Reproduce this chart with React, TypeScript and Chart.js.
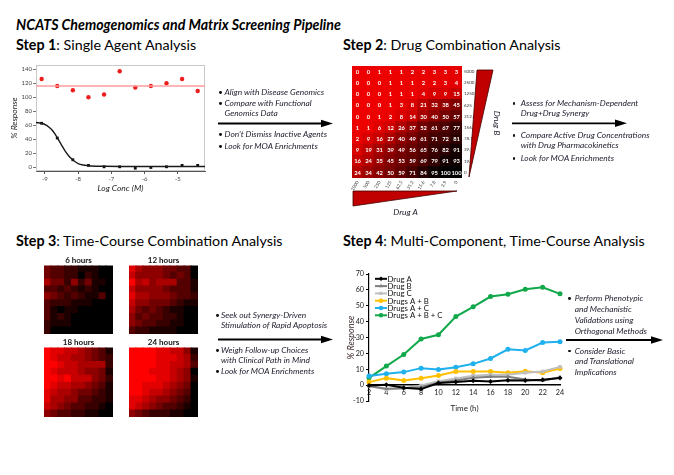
import React, { useEffect, useRef } from 'react';
import { Chart, registerables } from 'chart.js';
import { drawPoint } from 'chart.js/helpers';
Chart.register(...registerables);

const FONT = 'Lato, "Open Sans", sans-serif';

// ---------- Step 1: single agent dose response ----------
const logConc = [-9.1, -8.63, -8.16, -7.69, -7.22, -6.75, -6.28, -5.81, -5.34, -4.87, -4.4];
const inactiveResp = [126, 116, 110, 100, 104, 137, 114, 116, 120, 126, 109];
const activeResp = [63, 42, 11, 3, 1, 1, -1, 0, 1, 3, 3];
const inactiveMean = 116;
const fitConc = [-9.27, -9.1, -8.95, -8.8, -8.7, -8.6, -8.5, -8.4, -8.3, -8.2, -8.1, -8.0, -7.85, -7.6, -7.2, -6.5, -4.18];
const fitResp = [64, 63, 60, 54, 48, 40, 32, 24, 17.5, 12.5, 8.5, 5.5, 3.5, 2.2, 1.7, 1.5, 1.5];
const step1XRange = [-9.27, -4.18];
const step1YRange = [-5, 146];
const step1XTicks = [-9, -8, -7, -6, -5];
const step1YTicks = [0, 20, 40, 60, 80, 100, 120, 140];

// ---------- Step 2: combination matrix ----------
const drugALabels = ['1000', '500', '250', '125', '62.5', '31.3', '15.6', '7.8', '3.9', '0'];
const drugBLabels = ['5000', '2500', '1250', '625', '312.5', '156.2', '78.1', '39.1', '19.5', '0'];
const comboMatrix = [
  [0, 0, 1, 1, 1, 2, 2, 3, 3, 3],
  [0, 0, 0, 1, 1, 1, 2, 2, 3, 4],
  [0, 0, 0, 1, 1, 1, 4, 9, 9, 15],
  [0, 0, 0, 1, 3, 8, 21, 32, 38, 45],
  [0, 0, 1, 2, 8, 14, 30, 40, 50, 57],
  [1, 1, 6, 12, 26, 37, 52, 61, 67, 77],
  [2, 9, 16, 27, 40, 49, 61, 71, 72, 81],
  [9, 19, 31, 39, 49, 56, 65, 76, 82, 91],
  [16, 24, 35, 45, 53, 59, 69, 79, 91, 93],
  [24, 34, 42, 50, 59, 71, 84, 95, 100, 100],
];

// ---------- Step 3: time-course matrices (red intensity 0-9) ----------
const grid6h = [
  [4, 3, 3, 2, 2, 1, 1, 1, 0, 0],
  [4, 3, 3, 2, 2, 0, 2, 1, 0, 0],
  [6, 4, 4, 2, 5, 2, 4, 1, 1, 0],
  [3, 3, 2, 3, 2, 1, 2, 1, 0, 0],
  [5, 4, 3, 2, 3, 2, 1, 1, 3, 0],
  [3, 2, 2, 2, 1, 1, 1, 0, 0, 0],
  [3, 1, 0, 1, 1, 0, 0, 0, 0, 0],
  [3, 1, 2, 1, 0, 0, 0, 0, 0, 0],
  [2, 1, 1, 1, 0, 0, 0, 0, 0, 0],
  [2, 0, 0, 0, 0, 0, 0, 0, 0, 0],
];
const grid12h = [
  [8, 6, 5, 5, 5, 4, 4, 3, 3, 0],
  [7, 5, 5, 5, 5, 4, 3, 4, 3, 0],
  [9, 6, 7, 5, 6, 6, 6, 3, 3, 1],
  [7, 5, 5, 5, 5, 4, 3, 3, 3, 1],
  [8, 6, 6, 5, 5, 5, 4, 3, 3, 2],
  [7, 5, 5, 4, 4, 4, 3, 2, 1, 1],
  [6, 4, 3, 4, 3, 2, 1, 1, 0, 0],
  [5, 3, 4, 3, 3, 2, 2, 1, 0, 0],
  [5, 4, 3, 3, 2, 2, 1, 1, 0, 0],
  [3, 2, 2, 1, 1, 1, 1, 0, 0, 0],
];
const grid18h = [
  [9, 8, 8, 7, 7, 6, 5, 4, 3, 1],
  [9, 8, 7, 7, 6, 6, 5, 4, 3, 2],
  [9, 9, 8, 7, 7, 6, 6, 6, 6, 2],
  [9, 8, 7, 7, 7, 6, 5, 5, 4, 1],
  [9, 9, 8, 9, 7, 7, 7, 5, 4, 2],
  [9, 8, 7, 7, 6, 6, 5, 4, 3, 1],
  [8, 7, 6, 6, 5, 4, 4, 3, 2, 1],
  [8, 6, 6, 5, 5, 3, 3, 2, 2, 1],
  [7, 6, 5, 4, 3, 3, 2, 2, 1, 0],
  [5, 4, 3, 3, 2, 2, 1, 1, 0, 0],
];
const grid24h = [
  [9, 9, 9, 9, 8, 8, 7, 7, 5, 1],
  [9, 9, 9, 9, 8, 8, 8, 7, 6, 2],
  [9, 9, 9, 9, 8, 8, 7, 7, 6, 3],
  [9, 9, 9, 8, 8, 8, 7, 6, 5, 0],
  [9, 9, 9, 9, 8, 8, 7, 6, 5, 1],
  [9, 9, 8, 8, 8, 7, 6, 5, 4, 0],
  [9, 9, 8, 7, 7, 6, 5, 4, 3, 0],
  [8, 8, 7, 6, 5, 5, 4, 3, 2, 0],
  [8, 7, 6, 5, 4, 3, 3, 2, 1, 0],
  [5, 4, 3, 2, 2, 2, 1, 1, 0, 0],
];

// ---------- Step 4: multi-component time course ----------
const hours = ['2', '4', '6', '8', '10', '12', '14', '16', '18', '20', '22', '24'];
const drugA = [-0.2, 0.2, -1.7, -2.5, 1.3, 1.9, 2.7, 2.3, 3.1, 2.9, 3.4, 4.5];
const drugB = [-0.6, -2.3, -2.0, -1.3, 1.5, 2.9, 4.6, 5.2, 5.2, 3.6, 2.7, 5.0];
const drugC = [-0.6, -2.7, -2.0, -0.2, 2.5, 4.2, 5.9, 6.5, 6.5, 7.8, 8.6, 11.5];
const drugsAB = [1.9, 4.4, 2.9, 4.4, 6.1, 8.6, 8.6, 8.6, 7.8, 8.8, 7.8, 10.5];
const drugsAC = [5.7, 7.1, 8.2, 10.7, 9.9, 11.3, 13.4, 16.8, 22.6, 21.8, 26.8, 27.3];
const drugsABC = [4.6, 12.0, 19.3, 29.1, 31.7, 43.2, 49.3, 55.8, 57.2, 60.4, 61.6, 57.5];
const seriesLabels = ['Drug A', 'Drug B', 'Drug C', 'Drugs A + B', 'Drugs A + C', 'Drugs A + B + C'];
const seriesColors = ['#000000', '#7f7f7f', '#bfbfbf', '#ffc000', '#1fb0ee', '#10a84a'];
const seriesPoints = ['rectRot', 'triangle', 'rect', 'circle', 'circle', 'circle'];
const step4YTicks = { min: -10, max: 70, step: 10 };

// ---------- helpers ----------
const baseOpts = {
  animation: false,
  responsive: false,
  maintainAspectRatio: false,
  events: [],
  plugins: { legend: { display: false }, tooltip: { enabled: false }, title: { display: false } },
};

function ChartCanvas({ left, top, width, height, make }: { left: number; top: number; width: number; height: number; make: () => any }) {
  const ref = useRef<HTMLCanvasElement>(null);
  useEffect(() => {
    const chart = new Chart(ref.current as HTMLCanvasElement, make());
    return () => chart.destroy();
  }, []);
  return (
    <canvas
      ref={ref}
      width={width}
      height={height}
      style={{ position: 'absolute', left, top, width, height, display: 'block' }}
    />
  );
}

const frameBox = {
  id: 'frameBox',
  beforeDatasetsDraw(chart: any) {
    const { ctx, chartArea: a } = chart;
    ctx.save();
    ctx.strokeStyle = '#c9c9c9';
    ctx.lineWidth = 1;
    ctx.strokeRect(a.left + 0.5, a.top + 0.5, a.right - a.left - 1, a.bottom - a.top - 1);
    ctx.restore();
  },
};

function step1Config() {
  const tickFont = { family: FONT, size: 6 };
  return {
    type: 'scatter',
    data: {
      datasets: [
        {
          type: 'line',
          data: fitConc.map((x, i) => ({ x, y: fitResp[i] })),
          borderColor: '#1a1a1a',
          borderWidth: 1.4,
          pointRadius: 0,
          cubicInterpolationMode: 'monotone',
          fill: false,
        },
        {
          data: logConc.map((x, i) => ({ x, y: activeResp[i] })),
          pointStyle: 'rect',
          pointRadius: 2,
          backgroundColor: '#111',
          borderColor: '#111',
          borderWidth: 0,
        },
        {
          type: 'line',
          data: [
            { x: step1XRange[0], y: inactiveMean },
            { x: step1XRange[1], y: inactiveMean },
          ],
          borderColor: '#ff9c9c',
          borderWidth: 1.5,
          pointRadius: 0,
          fill: false,
        },
        {
          data: logConc.map((x, i) => ({ x, y: inactiveResp[i] })),
          pointStyle: 'circle',
          pointRadius: 2.2,
          backgroundColor: '#ee1c1c',
          borderColor: '#ee1c1c',
          borderWidth: 0,
        },
      ],
    },
    options: {
      ...baseOpts,
      layout: { padding: { left: 0, top: 7, right: 5, bottom: 0 } },
      scales: {
        x: {
          type: 'linear',
          min: step1XRange[0],
          max: step1XRange[1],
          afterBuildTicks: (s: any) => {
            s.ticks = step1XTicks.map((v) => ({ value: v }));
          },
          ticks: { font: tickFont, color: '#444', padding: 1, maxRotation: 0 },
          grid: { display: true, drawOnChartArea: false, tickLength: 3, color: '#555' },
          border: { color: '#555', width: 1 },
          title: {
            display: true,
            text: 'Log Conc (M)',
            font: { family: FONT, size: 8.5, style: 'italic' },
            color: '#222',
            padding: { top: 1, bottom: 0 },
          },
          afterFit: (s: any) => {
            s.height = 22;
          },
        },
        y: {
          type: 'linear',
          min: step1YRange[0],
          max: step1YRange[1],
          afterBuildTicks: (s: any) => {
            s.ticks = step1YTicks.map((v) => ({ value: v }));
          },
          ticks: { font: tickFont, color: '#444', padding: 1 },
          grid: { display: true, drawOnChartArea: false, tickLength: 3, color: '#777' },
          border: { color: '#777', width: 1 },
          title: {
            display: true,
            text: '% Response',
            font: { family: FONT, size: 8.5, style: 'italic' },
            color: '#222',
            padding: { top: 3, bottom: 0 },
          },
          afterFit: (s: any) => {
            s.width = 30;
          },
        },
      },
    },
    plugins: [frameBox],
  };
}

const matColor = (v: number) => `rgb(${Math.round(238 * (1 - v / 100))},0,0)`;

const matrixText = {
  id: 'matrixText',
  afterDatasetsDraw(chart: any) {
    const { ctx } = chart;
    ctx.save();
    ctx.fillStyle = '#ffffff';
    ctx.font = `bold 5.8px ${FONT}`;
    ctx.textAlign = 'center';
    ctx.textBaseline = 'middle';
    chart.data.datasets.forEach((ds: any, i: number) => {
      const meta = chart.getDatasetMeta(i);
      meta.data.forEach((el: any, j: number) => {
        const cy = (el.y + el.base) / 2;
        ctx.fillText(String(ds.cellValues[j]), el.x, cy + 0.3);
      });
    });
    ctx.restore();
  },
};

function step2Config() {
  const small = { family: FONT, size: 4.5 };
  return {
    type: 'bar',
    data: {
      labels: drugALabels,
      datasets: comboMatrix
        .slice()
        .reverse()
        .map((row) => ({
          data: row.map(() => 1),
          cellValues: row,
          backgroundColor: row.map(matColor),
          borderWidth: 0,
          inflateAmount: 0.6,
          barPercentage: 1,
          categoryPercentage: 1,
        })),
    },
    options: {
      ...baseOpts,
      layout: { padding: { left: 7, top: 6, right: 0, bottom: 0 } },
      scales: {
        x: {
          type: 'category',
          stacked: true,
          offset: true,
          grid: { display: false, drawTicks: false },
          border: { display: false },
          ticks: { font: small, color: '#333', minRotation: 60, maxRotation: 60, autoSkip: false, padding: 2 },
          afterFit: (s: any) => {
            s.height = 22;
          },
        },
        y: { stacked: true, min: 0, max: 10, display: false },
        yB: {
          type: 'category',
          labels: drugBLabels,
          position: 'right',
          offset: true,
          grid: { display: false, drawTicks: false },
          border: { display: false },
          ticks: { font: small, color: '#333', padding: 2, autoSkip: false },
          afterFit: (s: any) => {
            s.width = 18;
          },
        },
      },
    },
    plugins: [matrixText],
  };
}

const heatColor = (v: number) => `rgb(${Math.round((v / 9) * 255)},0,0)`;

function heatConfig(grid: number[][], title: string) {
  return {
    type: 'bar',
    data: {
      labels: grid[0].map((_, i) => String(i)),
      datasets: grid
        .slice()
        .reverse()
        .map((row) => ({
          data: row.map(() => 1),
          backgroundColor: row.map(heatColor),
          borderWidth: 0,
          inflateAmount: 0.6,
          barPercentage: 1,
          categoryPercentage: 1,
        })),
    },
    options: {
      ...baseOpts,
      layout: { padding: 0 },
      plugins: {
        ...baseOpts.plugins,
        title: {
          display: true,
          text: title,
          font: { family: FONT, size: 8, weight: 'bold' },
          color: '#111',
          padding: { top: 1, bottom: 0 },
        },
      },
      scales: {
        x: { stacked: true, display: false, offset: true },
        y: { stacked: true, display: false, min: 0, max: 10 },
      },
    },
  };
}

const lineLegend = {
  id: 'lineLegend',
  afterDraw(chart: any) {
    const { ctx, chartArea } = chart;
    const x0 = chartArea.left + 6;
    const y0 = chartArea.top + 4.8;
    ctx.save();
    ctx.font = `7.8px ${FONT}`;
    ctx.textBaseline = 'middle';
    chart.data.datasets.forEach((ds: any, i: number) => {
      const y = y0 + i * 7.3;
      ctx.strokeStyle = ds.borderColor;
      ctx.lineWidth = 2;
      ctx.beginPath();
      ctx.moveTo(x0, y);
      ctx.lineTo(x0 + 12, y);
      ctx.stroke();
      ctx.fillStyle = ds.backgroundColor;
      drawPoint(ctx, { pointStyle: ds.pointStyle, radius: 2.3, borderWidth: 0, rotation: 0 }, x0 + 6, y);
      ctx.fillStyle = '#111';
      ctx.fillText(ds.label, x0 + 12.5, y + 0.3);
    });
    ctx.restore();
  },
};

function step4Config() {
  const tickFont = { family: FONT, size: 7.2 };
  const all = [drugA, drugB, drugC, drugsAB, drugsAC, drugsABC];
  return {
    type: 'line',
    data: {
      labels: hours,
      datasets: all.map((d, i) => ({
        label: seriesLabels[i],
        data: d,
        borderColor: seriesColors[i],
        backgroundColor: seriesColors[i],
        borderWidth: 2,
        pointRadius: 2.5,
        pointStyle: seriesPoints[i],
        pointBorderWidth: 0,
        tension: 0,
        fill: false,
      })),
    },
    options: {
      ...baseOpts,
      layout: { padding: { left: 0, top: 8, right: 10, bottom: 15 } },
      scales: {
        x: {
          position: { y: 0 },
          grid: { display: false, drawTicks: false },
          border: { color: '#000', width: 1.5 },
          ticks: { font: tickFont, color: '#222', padding: 3, maxRotation: 0, autoSkip: false },
          title: {
            display: true,
            text: 'Time (h)',
            font: { family: FONT, size: 8 },
            color: '#222',
            padding: { top: 4, bottom: 0 },
          },
        },
        y: {
          min: step4YTicks.min,
          max: step4YTicks.max,
          ticks: { stepSize: step4YTicks.step, font: tickFont, color: '#222', padding: 2 },
          grid: { drawOnChartArea: false, tickLength: 3, color: '#000' },
          border: { color: '#000', width: 1.2 },
          title: {
            display: true,
            text: '% Response',
            font: { family: FONT, size: 9, style: 'italic' },
            color: '#3d2b2b',
            padding: { top: 11, bottom: 0 },
          },
          afterFit: (s: any) => {
            s.width = 34;
          },
        },
      },
    },
    plugins: [lineLegend],
  };
}

// ---------- text helpers ----------
function Txt({
  x,
  y,
  size,
  children,
  weight = 400,
  italic = false,
  color = '#000',
  center = false,
}: {
  x: number;
  y: number;
  size: number;
  children: any;
  weight?: number;
  italic?: boolean;
  color?: string;
  center?: boolean;
}) {
  return (
    <div
      style={{
        position: 'absolute',
        left: x,
        top: y - size * 0.6,
        fontSize: size,
        lineHeight: `${size * 1.2}px`,
        fontWeight: weight,
        fontStyle: italic ? 'italic' : 'normal',
        color,
        whiteSpace: 'nowrap',
        transform: center ? 'translateX(-50%)' : undefined,
        fontFamily: FONT,
      }}
    >
      {children}
    </div>
  );
}

type BLine = { t: string; y: number; b: boolean };

function Bullets({ bx, tx, lines }: { bx: number; tx: number; lines: BLine[] }) {
  return (
    <>
      {lines.map((l, i) => (
        <React.Fragment key={i}>
          {l.b && (
            <div
              style={{
                position: 'absolute',
                left: bx - 1.4,
                top: l.y - 1.2,
                width: 2.8,
                height: 2.8,
                borderRadius: '50%',
                background: '#111',
              }}
            />
          )}
          <Txt x={tx} y={l.y} size={8.4} italic color="#1b1b2b">
            {l.t}
          </Txt>
        </React.Fragment>
      ))}
    </>
  );
}

const arrows = [
  { x1: 218, x2: 333, y: 123.5 },
  { x1: 512, x2: 627, y: 123.3 },
  { x1: 218, x2: 333, y: 339.5 },
  { x1: 566, x2: 663, y: 340 },
];

export default function App() {
  return (
    <div
      style={{
        position: 'fixed',
        left: 0,
        top: 0,
        width: 674,
        height: 475,
        background: '#fff',
        overflow: 'hidden',
        fontFamily: FONT,
      }}
    >
      <Txt x={16} y={24.5} size={14.2} weight={700} italic>
        NCATS Chemogenomics and Matrix Screening Pipeline
      </Txt>
      <Txt x={16} y={44.5} size={14.3}>
        <b>Step 1</b>: Single Agent Analysis
      </Txt>
      <Txt x={343} y={44.5} size={14.3}>
        <b>Step 2</b>: Drug Combination Analysis
      </Txt>
      <Txt x={16} y={241} size={14.3}>
        <b>Step 3</b>: Time-Course Combination Analysis
      </Txt>
      <Txt x={343} y={241} size={14.3}>
        <b>Step 4</b>: Multi-Component, Time-Course Analysis
      </Txt>

      <ChartCanvas left={6} top={58} width={204} height={135} make={step1Config} />
      <ChartCanvas left={345} top={60} width={135} height={140} make={step2Config} />
      <ChartCanvas left={44} top={255} width={69} height={79} make={() => heatConfig(grid6h, '6 hours')} />
      <ChartCanvas left={129} top={255} width={69} height={79} make={() => heatConfig(grid12h, '12 hours')} />
      <ChartCanvas left={44} top={337} width={69} height={80} make={() => heatConfig(grid18h, '18 hours')} />
      <ChartCanvas left={129} top={337} width={69} height={80} make={() => heatConfig(grid24h, '24 hours')} />
      <ChartCanvas left={335} top={266} width={235} height={150} make={step4Config} />

      <svg width={674} height={475} style={{ position: 'absolute', left: 0, top: 0, pointerEvents: 'none' }}>
        {arrows.map((a, i) => (
          <g key={i}>
            <line x1={a.x1} y1={a.y} x2={a.x2 - 9} y2={a.y} stroke="#000" strokeWidth={1.8} />
            <polygon points={`${a.x2 - 12},${a.y - 3.8} ${a.x2},${a.y} ${a.x2 - 12},${a.y + 3.8}`} fill="#000" />
          </g>
        ))}
        <polygon points="477,70 493,70 469,177" fill="#c00000" stroke="#400" strokeWidth={0.8} />
        <polygon points="353,191 457,191 353,206" fill="#c00000" stroke="#400" strokeWidth={0.8} />
      </svg>
      <Txt x={405.5} y={212} size={8.5} italic center color="#1b1b2b">
        Drug A
      </Txt>
      <div
        style={{
          position: 'absolute',
          left: 497,
          top: 123,
          transform: 'translate(-50%,-50%) rotate(90deg)',
          fontSize: 8.5,
          fontStyle: 'italic',
          whiteSpace: 'nowrap',
          color: '#1b1b2b',
          fontFamily: FONT,
        }}
      >
        Drug B
      </div>

      <Bullets
        bx={220.7}
        tx={224.5}
        lines={[
          { t: 'Align with Disease Genomics', y: 92, b: true },
          { t: 'Compare with Functional', y: 103, b: true },
          { t: 'Genomics Data', y: 113, b: false },
          { t: "Don't Dismiss Inactive Agents", y: 134.5, b: true },
          { t: 'Look for MOA Enrichments', y: 146.5, b: true },
        ]}
      />
      <Bullets
        bx={514}
        tx={520.7}
        lines={[
          { t: 'Assess for Mechanism-Dependent', y: 103.3, b: true },
          { t: 'Drug+Drug Synergy', y: 113.3, b: false },
          { t: 'Compare Active Drug Concentrations', y: 135, b: true },
          { t: 'with Drug Pharmacokinetics', y: 145.3, b: false },
          { t: 'Look for MOA Enrichments', y: 158.5, b: true },
        ]}
      />
      <Bullets
        bx={217.3}
        tx={221}
        lines={[
          { t: 'Seek out Synergy-Driven', y: 315.5, b: true },
          { t: 'Stimulation of Rapid Apoptosis', y: 325, b: false },
          { t: 'Weigh Follow-up Choices', y: 350.5, b: true },
          { t: 'with Clinical Path in Mind', y: 360, b: false },
          { t: 'Look for MOA Enrichments', y: 371, b: true },
        ]}
      />
      <Bullets
        bx={569.3}
        tx={574.7}
        lines={[
          { t: 'Perform Phenotypic', y: 298.3, b: true },
          { t: 'and Mechanistic', y: 309, b: false },
          { t: 'Validations using', y: 320, b: false },
          { t: 'Orthogonal Methods', y: 330.7, b: false },
          { t: 'Consider Basic', y: 350.7, b: true },
          { t: 'and Translational', y: 360.7, b: false },
          { t: 'Implications', y: 371.7, b: false },
        ]}
      />
    </div>
  );
}
